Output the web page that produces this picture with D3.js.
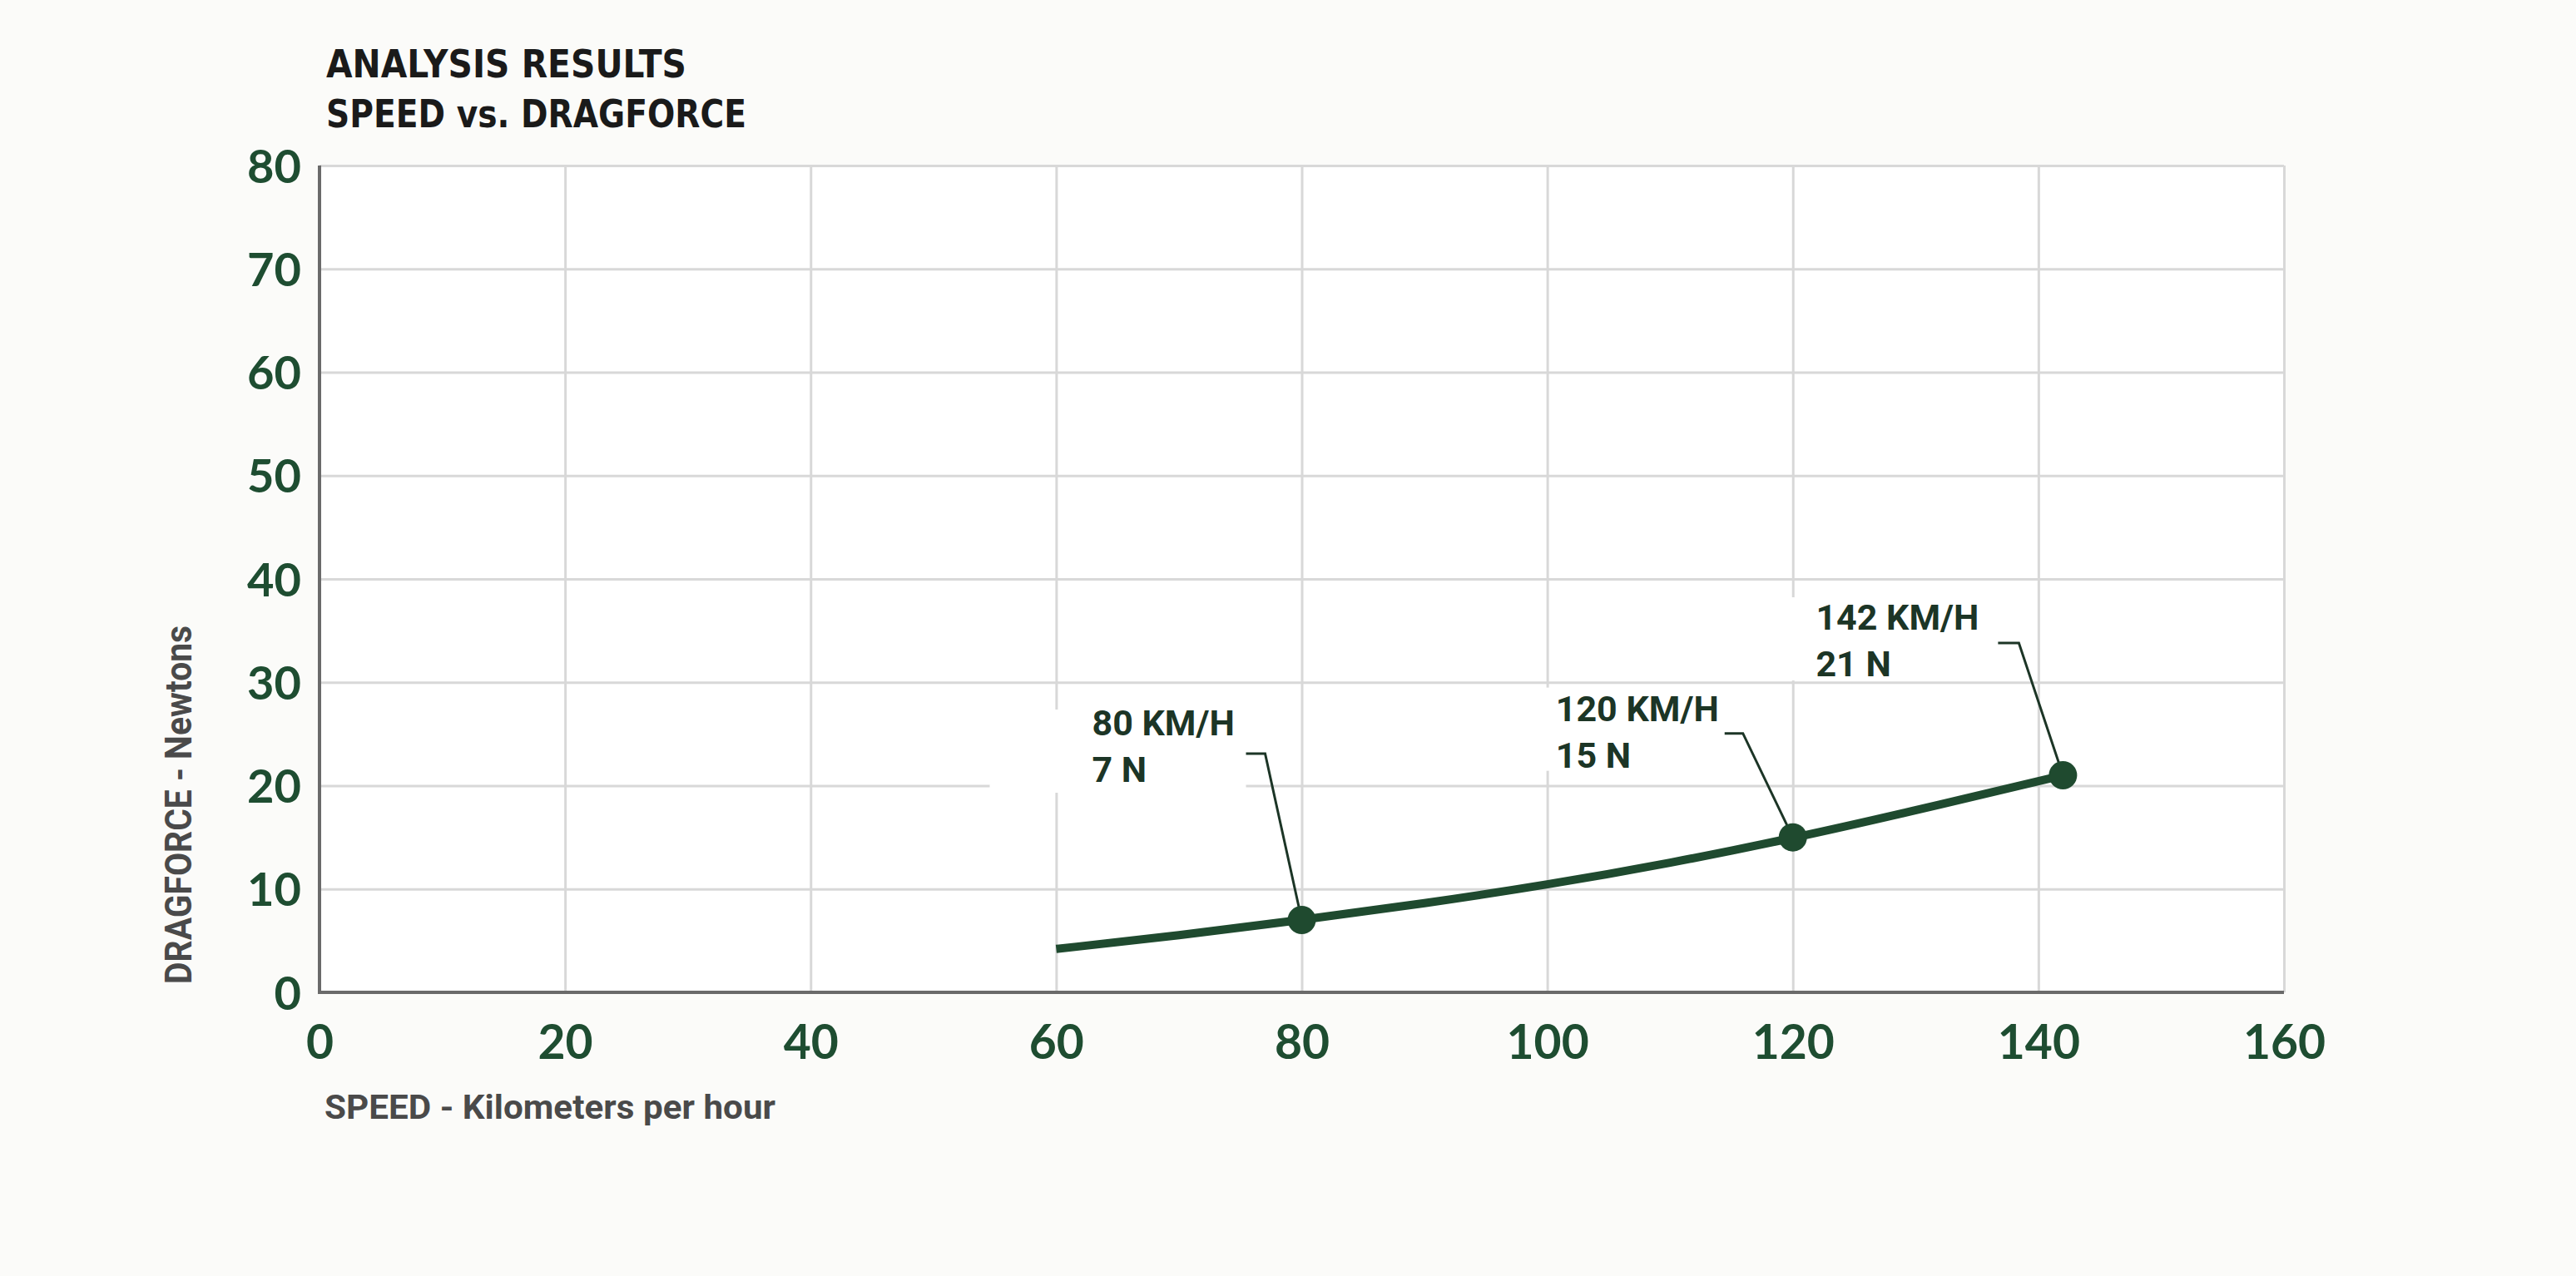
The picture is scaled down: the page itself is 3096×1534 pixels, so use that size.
<!DOCTYPE html>
<html>
<head>
<meta charset="utf-8">
<script src="https://cdn.jsdelivr.net/npm/d3@7"></script>
<style>
  html, body { margin: 0; padding: 0; background: #fbfbf9; }
  svg { display: block; }
</style>
</head>
<body>
<svg id="chart" width="3096" height="1534"></svg>
<script>
// ---- data ----
const titleLines = ["ANALYSIS RESULTS", "SPEED vs. DRAGFORCE"];
const xAxisTitle = "SPEED - Kilometers per hour";
const yAxisTitle = "DRAGFORCE - Newtons";
const xTicks = [0, 20, 40, 60, 80, 100, 120, 140, 160];
const yTicks = [0, 10, 20, 30, 40, 50, 60, 70, 80];
const speed = [60, 70, 80, 90, 100, 110, 120, 130, 142];
const dragForce = [4.2, 5.5, 7.0, 8.6, 10.4, 12.5, 14.9, 17.6, 21.0];
const markedSpeed = [80, 120, 142];
const markedForce = [7, 15, 21];
const markedLabel1 = ["80 KM/H", "120 KM/H", "142 KM/H"];
const markedLabel2 = ["7 N", "15 N", "21 N"];

// ---- layout (not data) ----
const labelOffsets = [
  { dx: -252, dy: -222, box: [-123, -31, 185, 69], lead: [185, 22, 208, 22] },
  { dx: -285, dy: -140, box: [-47, -40, 203, 60], lead: [203, 15, 225, 15] },
  { dx: -297, dy: -175, box: [-49, -39, 219, 61], lead: [219, 16, 244, 16] }
];

const svg = d3.select("#chart");
const green = "#1f4a2f";
const darkText = "#1c3526";
const tickGreen = "#1e4d31";

const x = d3.scaleLinear().domain([0, 160]).range([384, 2745]);
const y = d3.scaleLinear().domain([0, 80]).range([1193, 199]);

// plot background
svg.append("rect")
  .attr("x", x(0)).attr("y", y(80))
  .attr("width", x(160) - x(0)).attr("height", y(0) - y(80))
  .attr("fill", "#ffffff");

// grid
const gx = svg.append("g").attr("transform", `translate(0,${y(0)})`)
  .call(d3.axisBottom(x).tickValues(xTicks).tickSize(-(y(0) - y(80))).tickFormat(""));
gx.select(".domain").remove();
gx.selectAll("line").attr("stroke", "#d8d8d8").attr("stroke-width", 3);

const gy = svg.append("g").attr("transform", `translate(${x(0)},0)`)
  .call(d3.axisLeft(y).tickValues(yTicks).tickSize(-(x(160) - x(0))).tickFormat(""));
gy.select(".domain").remove();
gy.selectAll("line").attr("stroke", "#d8d8d8").attr("stroke-width", 3);

// annotation boxes (mask grid)
const ann = markedSpeed.map((s, i) => ({
  s, f: markedForce[i], l1: markedLabel1[i], l2: markedLabel2[i], o: labelOffsets[i]
}));
ann.forEach(a => {
  const tx = x(a.s) + a.o.dx, ty = y(a.f) + a.o.dy;
  svg.append("rect")
    .attr("x", tx + a.o.box[0]).attr("y", ty + a.o.box[1])
    .attr("width", a.o.box[2] - a.o.box[0]).attr("height", a.o.box[3] - a.o.box[1])
    .attr("fill", "#ffffff");
});

// axis lines
svg.append("line").attr("x1", x(0)).attr("x2", x(0)).attr("y1", y(80)).attr("y2", y(0) + 2)
  .attr("stroke", "#6a6a6a").attr("stroke-width", 4);
svg.append("line").attr("x1", x(0) - 2).attr("x2", x(160)).attr("y1", y(0)).attr("y2", y(0))
  .attr("stroke", "#6a6a6a").attr("stroke-width", 4);

// tick labels
const xl = svg.append("g").attr("transform", `translate(0,${y(0)})`)
  .call(d3.axisBottom(x).tickValues(xTicks).tickSize(0).tickPadding(40).tickFormat(d3.format("d")));
xl.select(".domain").remove();
xl.selectAll("text").attr("font-family", "Lato, 'Open Sans', sans-serif").attr("font-weight", 700)
  .attr("font-size", 57).attr("fill", tickGreen).attr("dy", "0.71em");

const yl = svg.append("g").attr("transform", `translate(${x(0)},0)`)
  .call(d3.axisLeft(y).tickValues(yTicks).tickSize(0).tickPadding(22).tickFormat(d3.format("d")));
yl.select(".domain").remove();
yl.selectAll("text").attr("font-family", "Lato, 'Open Sans', sans-serif").attr("font-weight", 700)
  .attr("font-size", 56).attr("fill", tickGreen).attr("dy", "0.36em");

// title
const tLens = [433, 505];
titleLines.forEach((t, i) => {
  svg.append("text").attr("x", 392).attr("y", 93 + i * 60)
    .attr("font-family", "'DejaVu Sans', sans-serif").attr("font-weight", 700)
    .attr("font-size", 47).attr("fill", "#1a1a1a")
    .attr("textLength", tLens[i]).attr("lengthAdjust", "spacingAndGlyphs")
    .text(t);
});

// axis titles
svg.append("text").attr("x", 390).attr("y", 1345)
  .attr("font-family", "Roboto, sans-serif").attr("font-weight", 700)
  .attr("font-size", 41).attr("fill", "#4a4a4a")
  .attr("textLength", 542).attr("lengthAdjust", "spacingAndGlyphs")
  .text(xAxisTitle);

svg.append("text").attr("transform", "translate(230,1183) rotate(-90)")
  .attr("font-family", "Roboto, sans-serif").attr("font-weight", 700)
  .attr("font-size", 44).attr("fill", "#4a4a4a")
  .attr("textLength", 431).attr("lengthAdjust", "spacingAndGlyphs")
  .text(yAxisTitle);

// curve
const pts = speed.map((s, i) => [s, dragForce[i]]);
svg.append("path").datum(pts)
  .attr("d", d3.line().x(d => x(d[0])).y(d => y(d[1])).curve(d3.curveBasis))
  .attr("fill", "none").attr("stroke", green).attr("stroke-width", 10)
  .attr("stroke-linecap", "butt");

// leaders, labels, dots
ann.forEach(a => {
  const cx = x(a.s), cy = y(a.f);
  const tx = cx + a.o.dx, ty = cy + a.o.dy;
  svg.append("polyline")
    .attr("points", [[tx + a.o.lead[0], ty + a.o.lead[1]], [tx + a.o.lead[2], ty + a.o.lead[3]], [cx, cy]].map(p => p.join(",")).join(" "))
    .attr("fill", "none").attr("stroke", darkText).attr("stroke-width", 3);
  svg.append("text").attr("x", tx).attr("y", ty)
    .attr("font-family", "Roboto, sans-serif").attr("font-weight", 700)
    .attr("font-size", 43).attr("fill", darkText)
    .text(a.l1);
  svg.append("text").attr("x", tx).attr("y", ty + 56)
    .attr("font-family", "Roboto, sans-serif").attr("font-weight", 700)
    .attr("font-size", 43).attr("fill", darkText)
    .text(a.l2);
  svg.append("circle").attr("cx", cx).attr("cy", cy).attr("r", 17).attr("fill", green);
});
</script>
</body>
</html>
